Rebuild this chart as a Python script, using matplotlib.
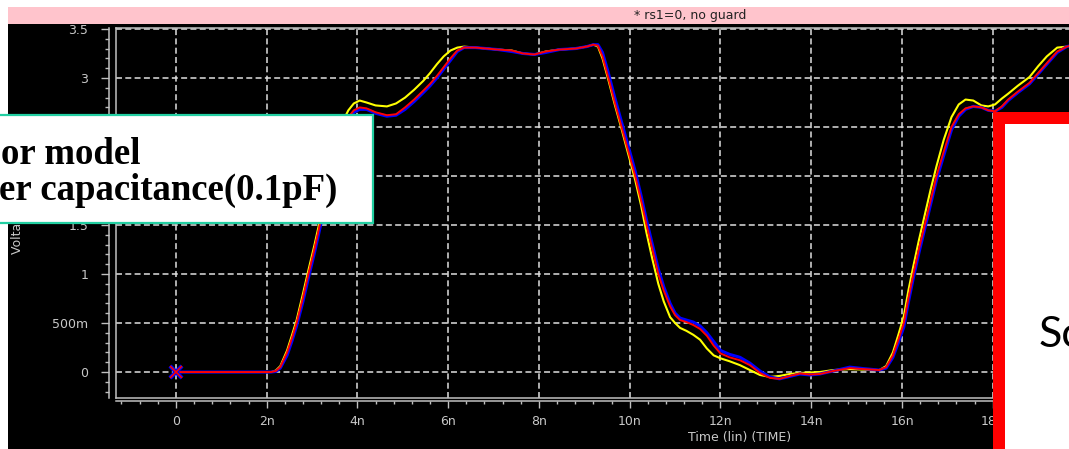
import matplotlib
matplotlib.use("Agg")
import matplotlib.pyplot as plt
from matplotlib.patches import Rectangle
from matplotlib.ticker import MultipleLocator
from matplotlib.lines import Line2D

plt.rcParams["lines.scale_dashes"] = False

# transient waveform, time in ns, voltages in V
time_ns = [0.0, 2.10, 2.20, 2.30, 2.45, 2.56, 2.66, 2.80, 2.92, 3.05, 3.18, 3.30, 3.42, 3.55, 3.67, 3.80,
           3.92, 4.05, 4.20, 4.40, 4.65, 4.85, 5.05, 5.25, 5.45, 5.60, 5.75, 5.90, 6.05, 6.20, 6.35,
           6.60, 6.85, 7.10, 7.40, 7.65, 7.90, 8.15, 8.45, 8.80, 9.05, 9.20, 9.30,
           9.40, 9.53, 9.67, 9.82, 9.97, 10.12, 10.25, 10.37, 10.50, 10.63, 10.75, 10.89,
           11.00, 11.11, 11.25, 11.40, 11.55, 11.70, 11.85, 12.00, 12.20, 12.43, 12.65, 12.87,
           13.09, 13.30, 13.53, 13.75, 13.97, 14.19, 14.48, 14.85, 15.15, 15.50,
           15.65, 15.80, 15.92, 16.04, 16.14, 16.25, 16.37, 16.50, 16.63, 16.76, 16.92, 17.09,
           17.25, 17.40, 17.57, 17.75, 17.90, 18.05, 18.20, 18.34, 18.55, 18.81, 19.00, 19.19, 19.42, 19.63, 19.80]

v_red = [0, 0, 0.01, 0.05, 0.20, 0.35, 0.50, 0.76, 1.00, 1.25, 1.52, 1.78, 2.02, 2.28, 2.48, 2.60,
         2.67, 2.70, 2.69, 2.65, 2.62, 2.63, 2.70, 2.78, 2.87, 2.94, 3.02, 3.11, 3.20, 3.28, 3.31,
         3.31, 3.30, 3.29, 3.28, 3.25, 3.24, 3.27, 3.29, 3.30, 3.32, 3.34, 3.33,
         3.22, 3.00, 2.75, 2.50, 2.25, 2.00, 1.75, 1.50, 1.25, 1.00, 0.83, 0.67,
         0.58, 0.53, 0.51, 0.48, 0.44, 0.37, 0.27, 0.19, 0.15, 0.12, 0.07, -0.01,
         -0.06, -0.07, -0.04, -0.015, -0.025, -0.02, 0.01, 0.04, 0.03, 0.02,
         0.05, 0.17, 0.33, 0.50, 0.75, 1.00, 1.25, 1.50, 1.75, 2.00, 2.25, 2.50,
         2.63, 2.69, 2.71, 2.70, 2.67, 2.66, 2.71, 2.78, 2.86, 2.95, 3.05, 3.15, 3.27, 3.32, 3.34]

v_blue = [0, 0, 0.005, 0.04, 0.17, 0.32, 0.47, 0.72, 0.96, 1.21, 1.48, 1.74, 1.98, 2.24, 2.45, 2.58,
          2.65, 2.68, 2.68, 2.64, 2.61, 2.62, 2.68, 2.76, 2.85, 2.92, 3.00, 3.09, 3.18, 3.27, 3.31,
          3.31, 3.30, 3.29, 3.27, 3.25, 3.24, 3.26, 3.29, 3.30, 3.32, 3.34, 3.34,
          3.26, 3.05, 2.80, 2.55, 2.30, 2.05, 1.80, 1.55, 1.30, 1.05, 0.87, 0.70,
          0.60, 0.55, 0.53, 0.51, 0.47, 0.40, 0.31, 0.22, 0.18, 0.15, 0.09, 0.01,
          -0.05, -0.07, -0.045, -0.02, -0.03, -0.02, 0.01, 0.05, 0.035, 0.02,
          0.04, 0.15, 0.30, 0.46, 0.71, 0.96, 1.21, 1.46, 1.71, 1.96, 2.21, 2.47,
          2.61, 2.68, 2.71, 2.70, 2.67, 2.66, 2.70, 2.77, 2.85, 2.94, 3.04, 3.14, 3.26, 3.32, 3.34]

v_yellow = [0, 0, 0.015, 0.06, 0.22, 0.38, 0.53, 0.80, 1.04, 1.29, 1.56, 1.83, 2.08, 2.34, 2.55, 2.67,
            2.74, 2.77, 2.75, 2.72, 2.71, 2.74, 2.80, 2.88, 2.97, 3.05, 3.14, 3.22, 3.28, 3.31, 3.32,
            3.31, 3.30, 3.29, 3.28, 3.25, 3.24, 3.27, 3.29, 3.30, 3.32, 3.34, 3.32,
            3.20, 2.98, 2.73, 2.48, 2.22, 1.96, 1.70, 1.42, 1.15, 0.90, 0.72, 0.56,
            0.50, 0.45, 0.42, 0.38, 0.33, 0.24, 0.17, 0.14, 0.11, 0.07, 0.02, -0.03,
            -0.05, -0.04, -0.02, -0.01, -0.005, 0.0, 0.02, 0.03, 0.025, 0.02,
            0.06, 0.20, 0.38, 0.57, 0.83, 1.08, 1.34, 1.60, 1.86, 2.10, 2.37, 2.60,
            2.73, 2.78, 2.77, 2.72, 2.71, 2.73, 2.79, 2.84, 2.92, 3.01, 3.12, 3.22, 3.31, 3.32, 3.34]

x_ticks = [0, 2, 4, 6, 8, 10, 12, 14, 16, 18]
x_labels = ["0", "2n", "4n", "6n", "8n", "10n", "12n", "14n", "16n", "18n"]
y_ticks = [0, 0.5, 1, 1.5, 2, 2.5, 3, 3.5]
y_labels = ["0", "500m", "1", "1.5", "2", "2.5", "3", "3.5"]

W, H = 1069, 449
fig = plt.figure(figsize=(W / 100, H / 100), dpi=100)
fig.patch.set_facecolor("white")


def frac(x, y):
    return x / W, 1 - y / H


# window background and title strip
fig.add_artist(Rectangle(frac(8, 449), (W - 8) / W, (449 - 24) / H, transform=fig.transFigure,
                         facecolor="black", edgecolor="none", zorder=-10))
fig.add_artist(Rectangle(frac(8, 24), (W - 8) / W, 17 / H, transform=fig.transFigure,
                         facecolor="#ffc4cc", edgecolor="none", zorder=-9))
fig.text(*frac(690, 16), "* rs1=0, no guard", ha="center", va="center", fontsize=9, color="#222222")

ax = fig.add_axes([116 / W, 1 - 398 / H, (W - 116) / W, (398 - 28) / H])
ax.set_facecolor("black")
ax.set_xlim(-1.32, 19.68)
ax.set_ylim(-0.265, 3.51)

ax.plot(time_ns, v_yellow, color="#ffff00", lw=1.5, zorder=3)
ax.plot(time_ns, v_blue, color="#0000ff", lw=2.2, zorder=4)
ax.plot(time_ns, v_red, color="#ff0000", lw=1.4, zorder=5)
ax.plot(time_ns[0], v_blue[0], marker="x", color="#0000ff", ms=9, mew=3, zorder=6)
ax.plot(time_ns[0], v_red[0], marker="x", color="#ff0000", ms=9, mew=1.2, zorder=7)

grid_kw = dict(color="#e0e0e0", linestyle=(0, (4.3, 2.4)), linewidth=1.1)
ax.grid(True, which="major", **grid_kw)
ax.set_axisbelow(True)

# rulers
ax.set_xticks(x_ticks)
ax.set_xticklabels(x_labels)
ax.set_yticks(y_ticks)
ax.set_yticklabels(y_labels)
ax.xaxis.set_minor_locator(MultipleLocator(0.4))
ax.yaxis.set_minor_locator(MultipleLocator(0.1))
for side in ["top", "right"]:
    ax.spines[side].set_visible(False)
ax.spines["left"].set_position(("outward", 5))
ax.spines["bottom"].set_position(("outward", 2.2))
for side in ["left", "bottom"]:
    ax.spines[side].set_color("#c0c0c0")
    ax.spines[side].set_linewidth(1.1)
ax.tick_params(axis="y", which="major", length=6, width=1, color="#c0c0c0", pad=9,
               labelsize=9, labelcolor="#c8c8c8")
ax.tick_params(axis="y", which="minor", length=3, width=1, color="#c0c0c0")
ax.tick_params(axis="x", which="major", length=5, width=1, color="#c0c0c0", pad=5,
               labelsize=9, labelcolor="#c8c8c8")
ax.tick_params(axis="x", which="minor", length=2.5, width=1, color="#c0c0c0")

# plot frame
for xs, ys in [([0, 0], [0, 1]), ([0, 1], [1, 1]), ([0, 1], [0, 0])]:
    ax.add_line(Line2D(xs, ys, transform=ax.transAxes, color="#c0c0c0", lw=1.1, clip_on=False))

fig.text(*frac(740, 437), "Time (lin) (TIME)", ha="center", va="center", fontsize=9, color="#c8c8c8")
fig.text(*frac(18, 213), "Voltages (lin)", ha="center", va="center", rotation=90,
         fontsize=9, color="#c8c8c8", zorder=1)

# note box
fig.add_artist(Rectangle(frac(-10, 223), 383 / W, 108 / H, transform=fig.transFigure,
                         facecolor="white", edgecolor="#22cfa2", lw=1.6, zorder=10))
fig.text(*frac(1, 164), "or model", ha="left", va="baseline", family="Liberation Serif",
         weight="bold", fontsize=26.5, color="black", zorder=11)
fig.text(*frac(-1, 200), "er capacitance(0.1pF)", ha="left", va="baseline",
         family="Liberation Serif", weight="bold", fontsize=26.5, color="black", zorder=11)

# red framed panel
fig.add_artist(Rectangle(frac(993, 500), 120 / W, (500 - 112) / H, transform=fig.transFigure,
                         facecolor="#ff0000", edgecolor="none", zorder=10))
fig.add_artist(Rectangle(frac(1005, 500), 110 / W, (500 - 124) / H, transform=fig.transFigure,
                         facecolor="white", edgecolor="none", zorder=10.5))
fig.text(*frac(1039, 347), "Sc", ha="left", va="baseline", family="Lato", weight="normal",
         fontsize=31, color="black", zorder=11)

fig.savefig("out.png", dpi=100, facecolor=fig.get_facecolor())
